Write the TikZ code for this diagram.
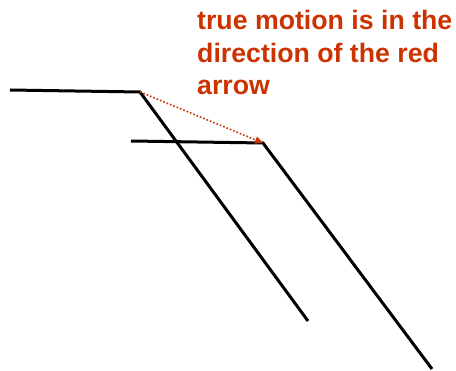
\documentclass[tikz,border=0pt]{standalone}
\usepackage{fontspec}
\setmainfont{Liberation Sans}
\usetikzlibrary{arrows.meta}

\definecolor{motionred}{RGB}{204,51,0}

\begin{document}
\begin{tikzpicture}[x=1pt, y=-1pt,
    % Define the style for the fault traces
    trace/.style={line width=3pt},
    % Define the style for the dotted motion arrow
    motion/.style={motionred, dotted, line width=1.6pt, -{Triangle[length=8pt, width=7pt]}}
]
\useasboundingbox (0,0) rectangle (456,371);

% Define the points of the first trace
\coordinate (A1) at (10,90);
\coordinate (B1) at (140,92);
\coordinate (C1) at (308,321);

% Define the points of the second trace
\coordinate (A2) at (131,141);
\coordinate (B2) at (263,143);
\coordinate (C2) at (432,369);

% Draw the traces
\draw[trace] (A1) -- (B1) -- (C1);
\draw[trace] (A2) -- (B2) -- (C2);

% Draw the motion arrow
\draw[motion] (B1) -- (B2);

% Add the label
\node[anchor=north west, inner sep=0, align=left, text=motionred,
      font=\bfseries\fontsize{26.7}{32.5}\selectfont] (lbl) at (197,10)
      {true motion is in the\\direction of the red\\arrow};

\end{tikzpicture}
\end{document}
